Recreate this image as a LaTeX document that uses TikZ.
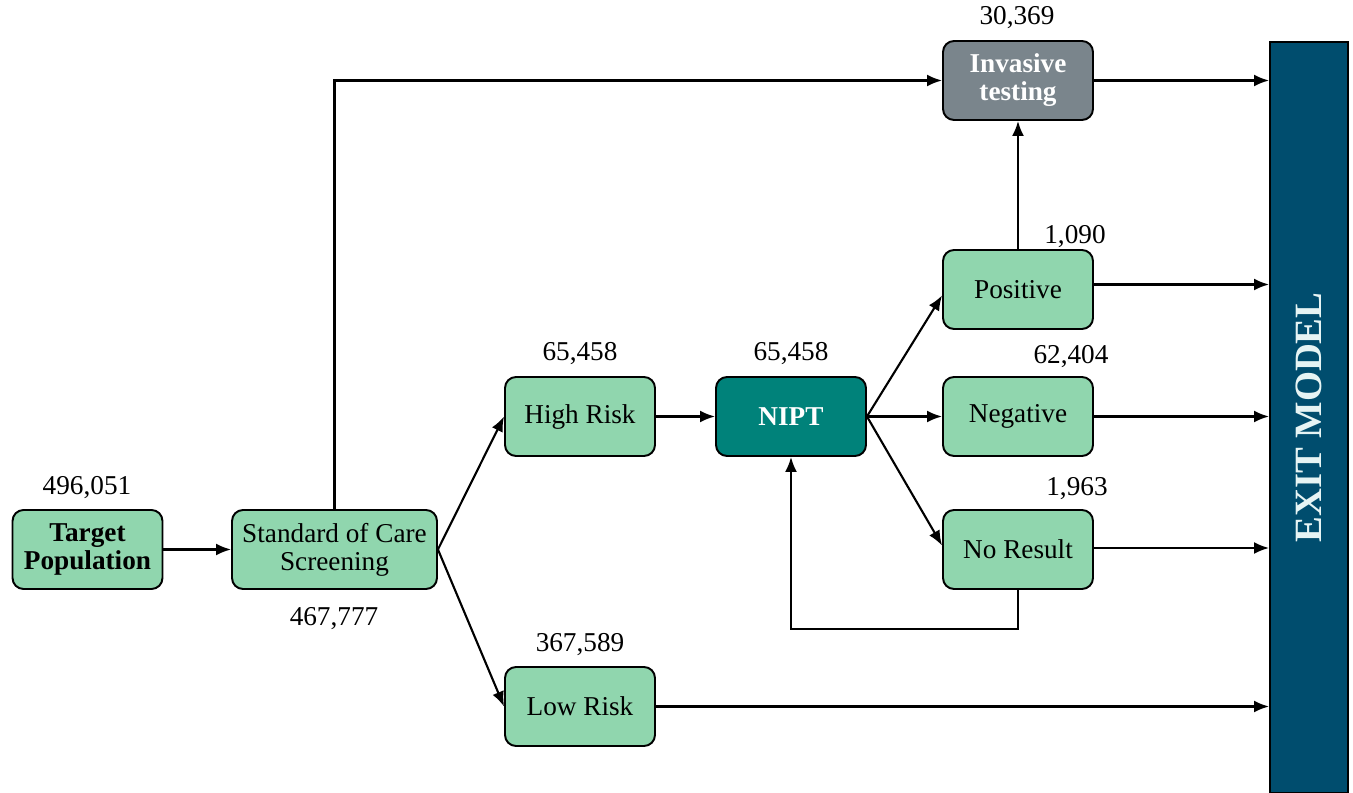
\documentclass[tikz,border=0pt]{standalone}
\usepackage{fontspec}
\setmainfont{Liberation Serif}
\usetikzlibrary{arrows.meta, positioning}
\definecolor{boxgreen}{HTML}{90D6AE}
\definecolor{niptteal}{HTML}{00827A}
\definecolor{invgray}{HTML}{7A858C}
\definecolor{exitblue}{HTML}{004D6E}
\definecolor{exittext}{HTML}{E6F4F4}

\begin{document}
\begin{tikzpicture}[
  x=0.02cm, y=-0.02cm,
  box/.style={rectangle, draw, line width=1.1pt, rounded corners=0.22cm, fill=boxgreen, minimum width=3cm, minimum height=1.58cm, align=center, font=\fontsize{15.5}{16}\selectfont},
  darkbox/.style={box, fill=niptteal, text=white, font=\fontsize{15.5}{16}\selectfont\bfseries},
  greybox/.style={box, fill=invgray, text=white, font=\fontsize{15.5}{16}\selectfont\bfseries},
  exitbox/.style={rectangle, draw, line width=1.1pt, fill=exitblue, text=exittext, minimum width=1.56cm, minimum height=15.02cm, font=\fontsize{22}{24}\selectfont\bfseries},
  count/.style={font=\fontsize{15.5}{18}\selectfont},
  every edge/.style={draw, line width=1.2pt, -{Latex[length=3mm,width=2.4mm]}},
  flow/.style={draw, line width=1.2pt, -{Latex[length=3mm,width=2.4mm]}}
  ]
\useasboundingbox (0,0) rectangle (1353,793);

% Nodes
\node[box, font=\fontsize{15.5}{16}\selectfont\bfseries] (target) at (87.5,549.5) {Target\\Population};
\node[box, minimum width=4.1cm] (soc) at (334.5,549.5) {Standard of Care\\Screening};
\node[box] (high) at (580,416.5) {High Risk};
\node[box] (low) at (580,706.5) {Low Risk};
\node[darkbox] (nipt) at (791,416.5) {NIPT};
\node[box] (pos) at (1018,289.5) {Positive};
\node[box] (neg) at (1018,416.5) {Negative};
\node[box] (nores) at (1018,549.5) {No Result};
\node[greybox] (inv) at (1018,80.5) {Invasive\\testing};
\node[exitbox] (exit) at (1309,417.5) {\rotatebox{90}{EXIT MODEL}};

% Counts
\node[count] (nTarget) at (87,488) {496,051};
\node[count] (nSoc) at (334,619) {467,777};
\node[count] (nHigh) at (580,354) {65,458};
\node[count] (nLow) at (580,645) {367,589};
\node[count] (nNipt) at (791,354) {65,458};
\node[count] (nPos) at (1075,237) {1,090};
\node[count] (nNeg) at (1071,357) {62,404};
\node[count] (nNores) at (1077,489) {1,963};
\node[count] (nInv) at (1017,18) {30,369};

% Edges
\path (target) edge (soc);
\path (soc.east) edge (high.west);
\path (soc.east) edge (low.west);
\path (high) edge (nipt);
\path (nipt.east) edge ([yshift=-0.12cm]pos.west);
\path (nipt.east) edge (neg.west);
\path (nipt.east) edge ([yshift=0.08cm]nores.west);
\path (pos) edge (inv);
\draw[flow] (soc.north) |- (inv.west);
\draw[flow] (nores.south) -- ++(0,39) -| (nipt.south);

% To exit
\path (inv.east) edge (inv.east -| exit.west);
\path ([yshift=0.1cm]pos.east) edge ([yshift=0.1cm]pos.east -| exit.west);
\path (neg.east) edge (neg.east -| exit.west);
\path ([yshift=0.03cm]nores.east) edge ([yshift=0.03cm]nores.east -| exit.west);
\path (low.east) edge (low.east -| exit.west);

\end{tikzpicture}
\end{document}
